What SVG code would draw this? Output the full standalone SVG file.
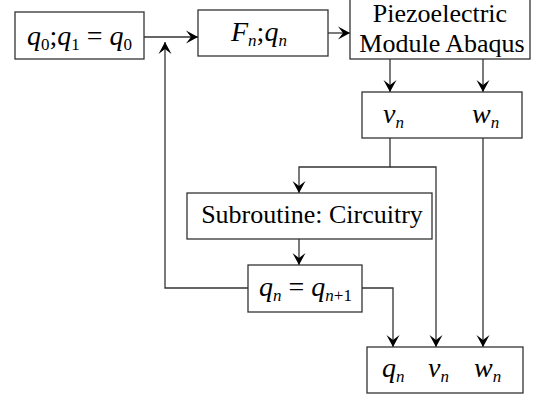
<svg xmlns="http://www.w3.org/2000/svg" width="536" height="396" viewBox="0 0 536 396">
<style>
.box{fill:#fff;stroke:#333;stroke-width:1.3}
.c{fill:none;stroke:#333;stroke-width:1.3}
.t{font-family:"Liberation Serif","Times New Roman",serif;font-size:26px;fill:#000}
.m{font-family:"Liberation Serif","Times New Roman",serif;font-size:28px;font-style:italic;fill:#000}
.s{font-size:17px}
.u{font-style:normal}
</style>
<defs>
<marker id="ah" markerUnits="userSpaceOnUse" markerWidth="14" markerHeight="14" refX="12" refY="7" orient="auto">
<path d="M0,0.5 L12,7 L0,13.5 L5,7 z" fill="#000"/>
</marker>
</defs>
<rect width="536" height="396" fill="#fff"/>
<g id="connectors">
<path class="c" d="M144,37 H198" marker-end="url(#ah)"/>
<path class="c" d="M248,288 H165 V42" marker-end="url(#ah)"/>
<path class="c" d="M328,33 H350" marker-end="url(#ah)"/>
<path class="c" d="M390,59 V92" marker-end="url(#ah)"/>
<path class="c" d="M483,59 V92" marker-end="url(#ah)"/>
<path class="c" d="M390,138 V167 H299 V193" marker-end="url(#ah)"/>
<path class="c" d="M390,167 H436 V347" marker-end="url(#ah)"/>
<path class="c" d="M483,138 V347" marker-end="url(#ah)"/>
<path class="c" d="M299,239 V265" marker-end="url(#ah)"/>
<path class="c" d="M362,288 H393 V347" marker-end="url(#ah)"/>
</g>
<g id="init">
<rect class="box" x="15" y="12" width="129" height="47"/>
<text class="m" x="27" y="45">q<tspan class="s u" dy="5">0</tspan><tspan class="u" dy="-5">;</tspan>q<tspan class="s u" dy="5">1</tspan><tspan class="u" dy="-5"> = </tspan>q<tspan class="s u" dy="5">0</tspan></text>
</g>
<g id="force">
<rect class="box" x="198" y="10" width="130" height="46"/>
<text class="m" x="231" y="41">F<tspan class="s" dy="5">n</tspan><tspan class="u" dy="-5">;</tspan>q<tspan class="s" dy="5">n</tspan></text>
</g>
<g id="abaqus">
<rect class="box" x="350" y="-1" width="180" height="60"/>
<text class="t" x="440" y="22" text-anchor="middle">Piezoelectric</text>
<text class="t" x="442" y="52" text-anchor="middle">Module Abaqus</text>
</g>
<g id="vw">
<rect class="box" x="362" y="92" width="160" height="46"/>
<text class="m" x="383" y="123">v<tspan class="s" dy="5">n</tspan></text>
<text class="m" x="472" y="123">w<tspan class="s" dy="5">n</tspan></text>
</g>
<g id="circuitry">
<rect class="box" x="187" y="193" width="245" height="46"/>
<text class="t" x="312" y="223" text-anchor="middle" font-size="27">Subroutine: Circuitry</text>
</g>
<g id="update">
<rect class="box" x="248" y="265" width="114" height="47"/>
<text class="m" x="259" y="296">q<tspan class="s" dy="5">n</tspan><tspan class="u" dy="-5"> = </tspan>q<tspan class="s" dy="5">n<tspan class="u">+1</tspan></tspan></text>
</g>
<g id="output">
<rect class="box" x="367" y="347" width="156" height="46"/>
<text class="m" x="382" y="377">q<tspan class="s" dy="5">n</tspan></text>
<text class="m" x="428" y="377">v<tspan class="s" dy="5">n</tspan></text>
<text class="m" x="474" y="377">w<tspan class="s" dy="5">n</tspan></text>
</g>
</svg>
